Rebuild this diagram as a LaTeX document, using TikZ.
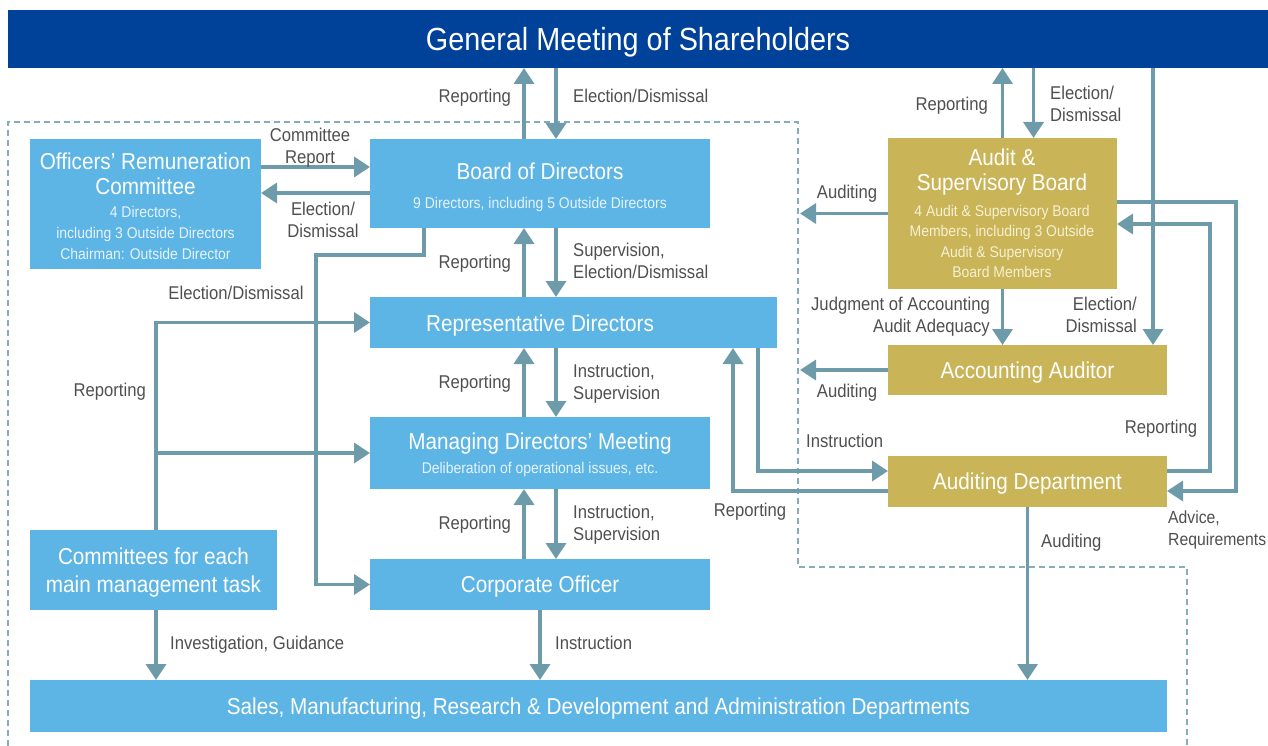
\documentclass[tikz,border=0pt]{standalone}
\usepackage{fontspec}
\setmainfont{Liberation Sans}[FakeStretch=0.9]
\usetikzlibrary{arrows.meta}
\definecolor{gmblue}{HTML}{00419A}
\definecolor{lblue}{HTML}{5DB5E6}
\definecolor{gold}{HTML}{C9B457}
\definecolor{conn}{HTML}{6D9BAA}
\definecolor{lbl}{HTML}{4F4F4F}
\definecolor{dashc}{HTML}{86ACBA}
\definecolor{subb}{HTML}{E6F3FB}
\definecolor{subg}{HTML}{F6F0D2}
\begin{document}
\begin{tikzpicture}[x=1pt,y=-1pt,
  every node/.append style={text depth=0pt},
  box/.style={inner sep=0pt, outer sep=0pt, draw=none, text=white, align=center},
  bluebox/.style={box, fill=lblue},
  goldbox/.style={box, fill=gold},
  ttl/.style={inner sep=0pt, text=white, align=center, font=\fontsize{23}{25.5}\selectfont},
  subt/.style={inner sep=0pt, text=subb, align=center, font=\fontsize{15.5}{20.7}\selectfont},
  subtg/.style={inner sep=0pt, text=subg, align=center, font=\fontsize{15.5}{20.3}\selectfont},
  lab/.style={inner sep=0pt, text=lbl, align=left, font=\fontsize{18.5}{22}\selectfont},
  labr/.style={lab, align=right},
  labc/.style={lab, align=center},
  arr/.style={draw=conn, line width=3.5pt, -{Triangle[width=20pt,length=16pt]}},
  dashline/.style={draw=dashc, line width=1.2pt, dash pattern=on 6pt off 4pt}
]
\useasboundingbox (0,0) rectangle (1268,746);

% helper coordinates
\coordinate (x156) at (156,0);
\coordinate (x316) at (316,0);
\coordinate (x424) at (424,0);
\coordinate (x733) at (733,0);
\coordinate (x758) at (758,0);
\coordinate (x800) at (800,0);
\coordinate (x1153) at (1153,0);
\coordinate (x1210) at (1210,0);
\coordinate (x1236) at (1236,0);
\coordinate (y167) at (0,167);
\coordinate (y193) at (0,193);
\coordinate (y255) at (0,255);
\coordinate (y202) at (0,202);
\coordinate (y224) at (0,224);
\coordinate (y471) at (0,471);
\coordinate (y491) at (0,491);

% dashed region
\draw[dashline] (8,746) -- (8,122) -- (798,122) -- (798,567) -- (1187,567) -- (1187,746);

% boxes
\node[box, fill=gmblue, minimum width=1260, minimum height=58, font=\fontsize{32}{36}\selectfont] (gm) at (638,39) {General Meeting of Shareholders};

\node[bluebox, minimum width=231, minimum height=130] (orc) at (145.5,204) {};
\node[ttl] (orct) at (145.5,173.5) {Officers’ Remuneration\\Committee};
\node[subt] (orcs) at (145.5,233) {4 Directors,\\including 3 Outside Directors\\Chairman: Outside Director};

\node[bluebox, minimum width=340, minimum height=89] (bod) at (540,183.5) {};
\node[ttl] (bodt) at (540,171) {Board of Directors};
\node[subt] (bods) at (540,203) {9 Directors, including 5 Outside Directors};

\node[bluebox, minimum width=407, minimum height=51] (rep) at (573.5,322.5) {};
\node[ttl] (rept) at (540,323) {Representative Directors};

\node[bluebox, minimum width=340, minimum height=72] (mdm) at (540,453) {};
\node[ttl] (mdmt) at (540,441) {Managing Directors’ Meeting};
\node[subt] (mdms) at (540,468) {Deliberation of operational issues, etc.};

\node[bluebox, minimum width=340, minimum height=51, font=\fontsize{23}{25.5}\selectfont] (co) at (540,584.5) {Corporate Officer};

\node[bluebox, minimum width=247, minimum height=80, font=\fontsize{23}{28}\selectfont] (cmt) at (153.5,570) {Committees for each\\main management task};

\node[bluebox, minimum width=1137, minimum height=52, font=\fontsize{23}{26}\selectfont] (sales) at (598.5,706) {Sales, Manufacturing, Research \& Development and Administration Departments};

\node[goldbox, minimum width=229, minimum height=151] (asb) at (1002.5,213.5) {};
\node[ttl] (asbt) at (1002,169.5) {Audit \&\\Supervisory Board};
\node[subtg] (asbs) at (1002,241.5) {4 Audit \& Supervisory Board\\Members, including 3 Outside\\Audit \& Supervisory\\Board Members};

\node[goldbox, minimum width=279, minimum height=50, font=\fontsize{23}{25.5}\selectfont] (aa) at (1027.5,370) {Accounting Auditor};
\node[goldbox, minimum width=279, minimum height=51, font=\fontsize{23}{25.5}\selectfont] (ad) at (1027.5,481) {Auditing Department};

% connectors: shareholders <-> board
\draw[arr] ([xshift=-16pt]bod.north) -- ([xshift=-16pt]bod.north |- gm.south);
\draw[arr] ([xshift=16pt]bod.north |- gm.south) -- ([xshift=16pt]bod.north);
% remuneration committee
\draw[arr] (orc.east |- y167) -- (bod.west |- y167);
\draw[arr] (bod.west |- y193) -- (orc.east |- y193);
% board -> corporate officer
\draw[arr] (bod.south -| x424) -- (x424 |- y255) -- (x316 |- y255) -- (x316 |- co.west) -- (co.west);
% board <-> rep
\draw[arr] ([xshift=-16pt]bod.south |- rep.north) -- ([xshift=-16pt]bod.south);
\draw[arr] ([xshift=16pt]bod.south) -- ([xshift=16pt]bod.south |- rep.north);
% rep <-> managing
\draw[arr] ([xshift=-16pt]mdm.north) -- ([xshift=-16pt]mdm.north |- rep.south);
\draw[arr] ([xshift=16pt]mdm.north |- rep.south) -- ([xshift=16pt]mdm.north);
% managing <-> corporate officer
\draw[arr] ([xshift=-16pt]co.north) -- ([xshift=-16pt]co.north |- mdm.south);
\draw[arr] ([xshift=16pt]co.north |- mdm.south) -- ([xshift=16pt]co.north);
% committees -> rep / managing
\draw[arr] (cmt.north -| x156) -- (x156 |- rep.west) -- (rep.west);
\draw[arr] (x156 |- mdm.west) -- (mdm.west);
% to sales
\draw[arr] (cmt.south -| x156) -- (sales.north -| x156);
\draw[arr] (co.south) -- (co.south |- sales.north);
\draw[arr] (ad.south) -- (ad.south |- sales.north);
% audit board <-> shareholders
\draw[arr] (asb.north) -- (asb.north |- gm.south);
\draw[arr] ([xshift=31pt]asb.north |- gm.south) -- ([xshift=31pt]asb.north);
\draw[arr] (x1153 |- gm.south) -- (x1153 |- aa.north);
\draw[arr] (asb.south) -- (asb.south |- aa.north);
% auditing arrows to region
\coordinate (audA) at (x800 |- asb.west);
\coordinate (audB) at (x800 |- aa.west);
\draw[arr] (asb.west) -- (audA);
\draw[arr] (aa.west) -- (audB);
% rep <-> auditing department
\draw[arr] (rep.south -| x758) -- (x758 |- y471) -- (ad.west |- y471);
\draw[arr] (ad.west |- y491) -- (x733 |- y491) -- (x733 |- rep.south);
% auditing department <-> audit board
\draw[arr] (ad.east |- y471) -- (x1210 |- y471) -- (x1210 |- y224) -- (asb.east |- y224);
\draw[arr] (asb.east |- y202) -- (x1236 |- y202) -- (x1236 |- y491) -- (ad.east |- y491);

% labels
\node[labr, anchor=east] (l1) at (511,96) {Reporting};
\node[lab, anchor=west] (l2) at (573,96) {Election/Dismissal};
\node[labc] (l3) at (310,145.5) {Committee\\Report};
\node[labc] (l4) at (323,219.5) {Election/\\Dismissal};
\node[lab] (l5) at (236,293) {Election/Dismissal};
\node[labr, anchor=east] (l6) at (511,262) {Reporting};
\node[lab, anchor=west] (l7) at (573,261) {Supervision,\\Election/Dismissal};
\node[labr, anchor=east] (l8) at (511,382) {Reporting};
\node[lab, anchor=west] (l9) at (573,382) {Instruction,\\Supervision};
\node[labr, anchor=east] (l10) at (511,523) {Reporting};
\node[lab, anchor=west] (l11) at (573,523) {Instruction,\\Supervision};
\node[labr, anchor=east] (l12) at (146,390) {Reporting};
\node[lab, anchor=west] (l13) at (170,643) {Investigation, Guidance};
\node[lab, anchor=west] (l14) at (555,643) {Instruction};
\node[lab, anchor=west] (l15) at (1041,541) {Auditing};
\node[labr, anchor=east] (l16) at (988,104) {Reporting};
\node[lab, anchor=west] (l17) at (1050,103.5) {Election/\\Dismissal};
\node[lab] (l18) at (847,192) {Auditing};
\node[labr, anchor=east] (l19) at (990,315) {Judgment of Accounting\\Audit Adequacy};
\node[labr, anchor=east] (l20) at (1137,315) {Election/\\Dismissal};
\node[lab] (l21) at (847,391) {Auditing};
\node[lab, anchor=west] (l22) at (806,441) {Instruction};
\node[lab] (l23) at (750,510) {Reporting};
\node[lab] (l24) at (1161,427) {Reporting};
\node[lab, anchor=west, font=\fontsize{17.5}{22}\selectfont] (l25) at (1168,528) {Advice,\\Requirements};
\end{tikzpicture}
\end{document}
